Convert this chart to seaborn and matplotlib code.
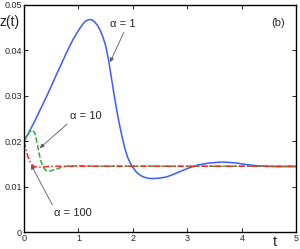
import seaborn as sns
import matplotlib.pyplot as plt
import pandas as pd
import numpy as np

sns.set_theme(style="ticks", context="paper")
plt.rcParams['font.family'] = ['Liberation Sans', 'DejaVu Sans']

# values
t_a1 = [0, 0.1, 0.2, 0.3, 0.4, 0.5, 0.6, 0.7, 0.8, 0.9, 1.0, 1.05, 1.1, 1.15, 1.2, 1.25, 1.3,
        1.35, 1.4, 1.45, 1.5, 1.55, 1.6, 1.65, 1.7, 1.75, 1.8, 1.85, 1.9, 1.95, 2.0, 2.05,
        2.1, 2.15, 2.2, 2.3, 2.4, 2.5, 2.6, 2.7, 2.8, 2.9, 3.0, 3.1, 3.2, 3.3, 3.4, 3.5,
        3.6, 3.7, 3.8, 3.9, 4.0, 4.2, 4.4, 4.6, 4.8, 5.0]
z_a1 = [0.0200, 0.0222, 0.0245, 0.0270, 0.0295, 0.0321, 0.0348, 0.0374, 0.0400, 0.0424, 0.0444,
        0.0453, 0.0461, 0.0466, 0.0468, 0.0467, 0.0462, 0.0455, 0.0444, 0.0429, 0.0410, 0.0380,
        0.0343, 0.0305, 0.0270, 0.0238, 0.0210, 0.0185, 0.0165, 0.0152, 0.0142, 0.0134,
        0.0128, 0.0124, 0.0121, 0.0118, 0.0118, 0.0119, 0.0121, 0.0125, 0.0130, 0.0135,
        0.0140, 0.0144, 0.0148, 0.0150, 0.0152, 0.0153, 0.0154, 0.0154, 0.0153, 0.0152,
        0.0150, 0.0147, 0.0145, 0.0144, 0.0144, 0.0144]

t_a10 = [0, 0.05, 0.1, 0.15, 0.2, 0.25, 0.3, 0.35, 0.4, 0.45, 0.5, 0.6, 0.7, 0.8, 1.0, 1.2, 1.5, 2.0, 5.0]
z_a10 = [0.0200, 0.0211, 0.0220, 0.0225, 0.0218, 0.0190, 0.0160, 0.0143, 0.0136, 0.0134, 0.0135,
         0.0139, 0.0143, 0.0145, 0.0146, 0.0145, 0.0145, 0.0145, 0.0145]

t_a100 = [0, 0.03, 0.06, 0.1, 0.15, 0.2, 0.25, 0.3, 0.4, 0.5, 0.7, 1.0, 2.0, 5.0]
z_a100 = [0.0200, 0.0185, 0.0170, 0.0157, 0.0148, 0.0144, 0.0143, 0.0143, 0.0144, 0.0145,
          0.0145, 0.0145, 0.0145, 0.0145]

f = plt.figure(figsize=(3.0, 2.49), dpi=100)
ax = f.add_axes([0.08, 0.068, 0.908, 0.912])

sns.lineplot(x=t_a1, y=z_a1, ax=ax, color='#3a5cff', lw=1.1)
sns.lineplot(x=t_a10, y=z_a10, ax=ax, color='#33aa33', lw=1.1, linestyle=(0, (3.5, 1.5)))
sns.lineplot(x=t_a100, y=z_a100, ax=ax, color='#ff2a2a', lw=1.1, linestyle=(0, (4, 1.5, 1, 1.5)))

ax.set_xlim(0, 5)
ax.set_ylim(0, 0.05)
ax.set_xticks([0, 1, 2, 3, 4, 5])
ax.set_yticks([0, 0.01, 0.02, 0.03, 0.04, 0.05])
ax.set_yticklabels(['0', '0.01', '0.02', '0.03', '0.04', '0.05'])
ax.tick_params(direction='in', length=3, width=0.6, labelsize=6.5, pad=1.5,
               top=True, right=True, color='black')
for s in ax.spines.values():
    s.set_linewidth(1.0)
    s.set_color('black')

arrow = dict(arrowstyle='-|>', color='0.35', lw=0.6, mutation_scale=6, shrinkA=0, shrinkB=0)
ax.annotate('α = 1', xy=(1.58, 0.0374), xytext=(1.58, 0.0458), fontsize=8,
            va='center', arrowprops=dict(arrow, relpos=(0.6, 0)))
ax.annotate('α = 10', xy=(0.29, 0.0185), xytext=(0.85, 0.0255), fontsize=8,
            va='center', arrowprops=dict(arrow, relpos=(0.0, 0)))
ax.annotate('α = 100', xy=(0.13, 0.0148), xytext=(0.55, 0.0042), fontsize=8,
            va='center', arrowprops=dict(arrow, relpos=(0.0, 1)))

ax.text(4.67, 0.046, '(b)', fontsize=8, va='center', ha='center')
f.text(0.0, 0.91, 'z(t)', fontsize=10, va='center', ha='left')
f.text(0.917, 0.027, 't', fontsize=10.5, va='center', ha='center')
ax.set_xlabel('')
ax.set_ylabel('')

plt.savefig('out.png', dpi=100)
